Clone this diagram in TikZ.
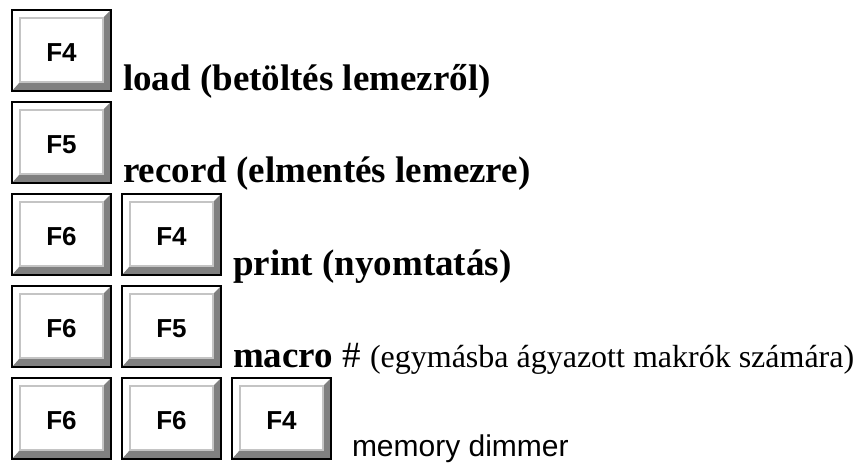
\documentclass[tikz,border=0pt]{standalone}
\usepackage{fontspec}
\setmainfont{Liberation Serif}
\newfontfamily\arialbetu{Liberation Sans}
\newcommand\megjegyzesbetu{\mdseries\fontsize{32}{35}\selectfont}
\usetikzlibrary{positioning}
\definecolor{sotet}{HTML}{808080}
\definecolor{vilagos}{HTML}{C4C4C4}
\tikzset{
  billentyu/.style={rectangle, draw=black, line width=1.6pt, fill=white,
    minimum width=99pt, minimum height=81pt, inner sep=0pt, outer sep=0pt,
    font=\arialbetu\bfseries\fontsize{26}{29}\selectfont,
    text height=22pt, text depth=0pt,
    path picture={
      \fill[sotet] (path picture bounding box.north east)
        -- (path picture bounding box.south east)
        -- (path picture bounding box.south west)
        -- ([shift={(8pt,9pt)}]path picture bounding box.south west)
        -- ([shift={(-8pt,9pt)}]path picture bounding box.south east)
        -- ([shift={(-8pt,-8pt)}]path picture bounding box.north east) -- cycle;
      \draw[vilagos, line width=2pt]
        ([shift={(8pt,-8pt)}]path picture bounding box.north west)
        rectangle ([shift={(-8pt,9pt)}]path picture bounding box.south east);
    }},
  felirat/.style={anchor=base west, inner sep=0pt, outer sep=0pt,
    font=\bfseries\fontsize{37}{40}\selectfont},
}
\begin{document}
\begin{tikzpicture}[x=1pt, y=-1pt, node distance=11pt and 11pt]
    \useasboundingbox (0,0) rectangle (859,465);
    % billentyuk
    \node[billentyu] (betolt) at (61.5,50.5) {F4};
    \node[billentyu, below=of betolt] (ment) {F5};
    \node[billentyu, below=of ment] (nyomtA) {F6};
    \node[billentyu, right=of nyomtA] (nyomtB) {F4};
    \node[billentyu, below=of nyomtA] (makroA) {F6};
    \node[billentyu, right=of makroA] (makroB) {F5};
    \node[billentyu, below=of makroA] (memA) {F6};
    \node[billentyu, right=of memA] (memB) {F6};
    \node[billentyu, right=of memB] (memC) {F4};

    % feliratok
    \node[felirat] (tbetolt) at ([xshift=12pt]betolt.south east) {load (betöltés lemezről)};
    \node[felirat] (tment) at ([xshift=12pt]ment.south east) {record (elmentés lemezre)};
    \node[felirat] (tnyomt) at ([xshift=12pt]nyomtB.south east) {print (nyomtatás)};
    \node[felirat] (tmakro) at ([xshift=12pt]makroB.south east) {macro {\mdseries\#} {\megjegyzesbetu(egymásba ágyazott makrók számára)}};
    \node[felirat, font=\arialbetu\fontsize{30}{33}\selectfont] (tmem) at ([xshift=21pt, yshift=3pt]memC.south east) {memory dimmer};
  \end{tikzpicture}
\end{document}
